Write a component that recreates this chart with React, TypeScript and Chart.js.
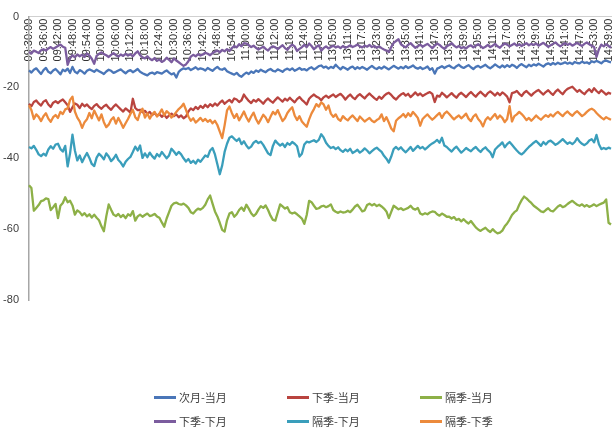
import React, { useEffect, useRef } from 'react';
import { Chart, registerables } from 'chart.js';

Chart.register(...registerables);

// ---- categories (1-minute bars, two trading sessions) ----
function sessionTimes(startMin: number, endMin: number): string[] {
  const out: string[] = [];
  for (let t = startMin; t <= endMin; t++) {
    const h = String(Math.floor(t / 60)).padStart(2, '0');
    const m = String(t % 60).padStart(2, '0');
    out.push(`${h}:${m}:00`);
  }
  return out;
}
const TIMES: string[] = [
  ...sessionTimes(9 * 60 + 30, 11 * 60 + 30),
  ...sessionTimes(13 * 60, 15 * 60),
];
const LABEL_EVERY = 6;

const Y_TICKS = [0, -20, -40, -60, -80];

const SERIES_NAMES = ['次月-当月', '下季-当月', '隔季-当月', '下季-下月', '隔季-下月', '隔季-下季'];
const SERIES_COLORS = ['#4A76B8', '#B9443F', '#8DB047', '#7B5C9E', '#3A9EBB', '#EC8A3C'];

// ---- series values ----
const ciYue_dangYue = [
  -15.2, -15.8, -15.0, -14.6, -15.4, -16.2,
  -15.1, -14.5, -15.6, -16.0, -15.2, -14.8,
  -15.5, -16.3, -15.0, -15.4, -14.7, -15.9,
  -14.2, -15.6, -16.0, -15.1, -15.5, -16.1,
  -15.3, -14.9, -15.2, -15.6, -15.0, -15.4,
  -15.8, -16.2, -15.5, -15.0, -15.3, -15.9,
  -15.6, -15.2, -14.9, -15.5, -16.0, -15.4,
  -15.1, -15.7, -15.3, -14.8, -15.6, -16.0,
  -16.3, -16.6, -16.0, -15.8, -16.2, -15.7,
  -15.9, -16.1, -15.6, -15.2, -15.8, -16.3,
  -16.0, -17.2, -15.6, -15.0, -14.6, -14.8,
  -14.5, -15.1, -14.7, -14.3, -14.9, -14.6,
  -14.8, -15.2, -14.5, -14.9, -15.3, -14.7,
  -14.2, -14.8, -15.0, -14.6, -15.4, -15.8,
  -16.1, -16.4, -15.9, -16.6, -17.0, -16.3,
  -15.8, -16.2, -15.5, -15.9, -15.2, -15.6,
  -15.0, -15.4, -15.7, -15.1, -14.8, -15.3,
  -15.5, -14.9, -15.2, -15.6, -15.0, -14.7,
  -15.1, -14.6, -15.3, -14.9, -14.5, -15.0,
  -14.8, -15.2, -14.6, -14.3, -14.9, -14.5,
  -14.0, -13.8, -14.4, -14.1, -14.7, -14.2,
  -14.5, -13.6, -14.3, -14.9, -14.2, -14.6,
  -15.0, -14.4, -14.1, -14.8, -14.3, -14.7,
  -14.2, -14.6, -15.0, -14.4, -13.9, -14.5,
  -14.8, -14.3, -14.7, -14.1, -14.5, -14.9,
  -14.4, -13.9, -14.3, -14.7, -14.2, -14.6,
  -14.0, -14.5, -14.2, -13.8, -14.4, -14.7,
  -14.3, -14.8, -14.5, -14.1, -15.0, -14.6,
  -16.1, -14.7, -14.4, -14.0, -14.5, -14.1,
  -13.8, -14.3, -14.6, -14.0, -13.6, -14.2,
  -14.5, -14.1, -13.7, -14.3, -14.8, -14.2,
  -13.9, -14.4, -14.0, -13.6, -14.2, -14.6,
  -14.1, -13.5, -14.0, -14.4, -13.8, -14.3,
  -13.7, -14.2, -13.6, -13.9, -14.5, -13.8,
  -13.4, -13.9, -14.3, -13.6, -14.0, -13.5,
  -13.8, -13.3, -13.7, -14.1, -13.5, -13.2,
  -13.6, -13.1, -13.5, -13.0, -13.4, -13.2,
  -12.9, -13.3, -13.0, -13.4, -12.8, -13.1,
  -13.2, -12.7, -13.1, -12.9, -13.3, -12.6,
  -12.9, -12.5, -12.8, -13.2, -12.6, -12.4,
  -12.7, -12.9,
];

const xiaJi_dangYue = [
  -24.6, -25.3, -24.1, -23.7, -24.5, -25.1,
  -24.0, -23.6, -24.8, -25.5, -24.3, -23.9,
  -24.4, -23.8, -23.4, -24.2, -25.0, -26.9,
  -25.6, -24.5, -24.9, -25.8, -24.6, -25.3,
  -24.8, -25.6, -26.1, -25.2, -24.7, -25.5,
  -26.0, -25.3, -24.9, -25.7, -26.3, -25.4,
  -24.8, -25.5, -26.2, -26.8, -25.9, -26.5,
  -27.1, -23.2, -25.8, -26.4, -26.3, -27.0,
  -26.6, -27.4, -26.9, -27.8, -27.2, -28.0,
  -27.5, -28.3, -27.7, -28.6, -27.9, -27.4,
  -28.1, -27.6, -28.4, -27.9, -28.7, -28.2,
  -26.8, -25.9, -26.4, -25.5, -26.1, -25.2,
  -25.8, -24.9, -25.6, -24.7, -25.3, -24.5,
  -25.1, -24.3, -23.7, -24.6, -24.0, -23.5,
  -24.2, -23.1, -23.4, -24.1, -23.6, -22.0,
  -23.0, -23.8, -24.4, -23.5, -24.0, -23.3,
  -23.9, -24.6, -23.7, -23.1, -23.8, -24.3,
  -23.5, -22.8, -23.4, -24.0, -23.2, -23.7,
  -22.9, -23.6, -24.2, -23.3, -22.7, -23.5,
  -24.1, -24.8, -23.2, -22.5, -22.0, -22.6,
  -22.9, -23.6, -22.8, -22.3, -22.9, -22.4,
  -22.0, -22.7, -22.2, -21.8, -22.5, -23.4,
  -22.6, -22.0, -22.8, -23.3, -22.4, -21.9,
  -22.5, -23.1, -22.3, -21.7, -22.4, -23.0,
  -23.5, -22.6, -23.2, -22.4, -21.8, -21.5,
  -22.1, -22.9, -23.4, -22.6, -22.0, -21.6,
  -22.3, -21.8, -22.7, -22.1, -21.4, -22.2,
  -21.7, -22.4, -22.0, -21.6, -21.3, -21.8,
  -24.1, -22.3, -22.6, -21.5, -22.1, -22.8,
  -22.2, -21.6, -22.3, -22.9, -22.0, -21.5,
  -22.1, -22.7, -21.9, -21.3, -22.0, -22.6,
  -21.8, -21.2, -21.9, -22.5, -21.6, -21.1,
  -21.7, -22.3, -21.5, -22.2, -21.4, -21.9,
  -22.6, -24.2, -21.6, -21.4, -21.0, -21.8,
  -22.4, -21.5, -21.0, -21.7, -22.3, -21.6,
  -21.1, -20.7, -21.4, -22.0, -21.3, -20.8,
  -21.5, -22.1, -21.2, -20.6, -21.3, -21.9,
  -21.0, -20.4, -20.1, -19.8, -20.5, -21.2,
  -20.7, -21.4, -21.9, -21.1, -20.5, -21.3,
  -20.2, -21.0, -21.6, -20.8, -21.4, -22.0,
  -21.5, -21.8,
];

const geJi_dangYue = [
  -47.6, -48.4, -54.8, -54.0, -53.2, -52.1,
  -51.9, -51.3, -51.5, -54.6, -53.8, -52.9,
  -56.9, -53.4, -52.6, -51.0, -52.4, -52.0,
  -53.3, -55.9, -54.7, -55.2, -56.1, -55.5,
  -56.4, -55.8, -56.7, -55.9, -56.8, -57.5,
  -59.2, -60.6, -56.4, -53.0, -54.5, -55.9,
  -56.3, -55.7, -56.6, -56.0, -56.9, -55.8,
  -56.2, -54.9, -57.6, -56.4, -55.9, -56.5,
  -56.0, -55.6, -56.3, -56.1, -55.7, -56.4,
  -56.8, -58.1, -59.3, -57.0, -55.2, -53.4,
  -52.7, -52.5, -52.9, -53.1, -52.8, -53.3,
  -54.0, -55.2, -55.6, -54.8, -54.2, -54.5,
  -54.0, -53.1, -51.6, -50.5, -52.8, -55.0,
  -56.4, -58.2, -60.2, -60.7, -57.5, -55.6,
  -55.2, -56.5, -55.8, -54.6, -53.9, -54.8,
  -53.1, -54.2, -55.5, -56.3, -55.7, -54.5,
  -53.5, -54.0, -53.3, -54.6, -56.2, -57.4,
  -57.6, -55.3, -53.0, -53.6, -54.2, -53.8,
  -55.2, -55.6, -55.3, -55.8, -56.4, -57.0,
  -58.5, -56.0, -52.0, -52.4, -53.4, -54.3,
  -54.1, -53.6, -53.4, -53.8, -53.5, -53.0,
  -54.6, -55.1, -55.4, -55.0, -55.3, -55.2,
  -54.8, -55.2, -54.5, -53.6, -53.1, -54.0,
  -55.0, -54.7, -53.2, -52.8, -53.3, -52.9,
  -53.5, -53.1, -53.6, -54.2, -55.0, -56.9,
  -55.1, -53.4, -53.9, -54.4, -54.1, -54.6,
  -54.3, -54.0, -53.4, -54.2, -54.5, -54.0,
  -55.6, -55.9, -55.5, -55.8, -55.3, -55.0,
  -55.1, -55.8, -56.2, -55.6, -56.0, -56.5,
  -56.5, -57.0, -56.6, -57.4, -57.1, -57.8,
  -57.2, -57.9, -58.4, -57.7, -58.6, -59.5,
  -60.1, -60.5, -60.0, -59.6, -60.3, -60.8,
  -60.0, -60.7, -61.2, -61.0, -60.4, -59.2,
  -58.4, -57.3, -56.0, -55.2, -54.7, -53.1,
  -51.8, -50.8, -51.3, -52.0, -52.6, -53.4,
  -53.9, -54.4, -55.0, -55.2, -54.6, -54.1,
  -54.8, -55.0, -54.3, -53.6, -53.2, -53.8,
  -53.5, -52.9, -52.4, -52.0, -52.6, -53.1,
  -53.4, -53.0, -53.6, -53.2, -53.7, -53.4,
  -53.0, -53.5, -53.1, -52.8, -52.5, -51.6,
  -58.2, -58.7,
];

const xiaJi_xiaYue = [
  -10.0, -10.4, -9.6, -9.9, -10.3, -9.5,
  -9.2, -9.6, -9.0, -8.6, -9.1, -8.7,
  -8.3, -7.9, -8.5, -8.8, -13.6, -11.8,
  -10.9, -11.5, -10.7, -11.2, -10.8, -11.4,
  -10.4, -11.0, -11.9, -13.3, -11.1, -10.5,
  -10.1, -10.6, -10.9, -11.4, -10.8, -10.3,
  -10.9, -11.3, -10.7, -11.1, -10.5, -11.0,
  -10.6, -11.2, -10.4, -9.8, -10.9, -11.5,
  -11.8, -11.2, -11.9, -12.3, -11.7, -12.5,
  -12.1, -12.8, -12.4, -11.6, -12.2, -12.9,
  -11.8, -12.4, -12.9, -13.4, -13.9, -13.5,
  -12.6, -11.3, -10.8, -11.2, -10.6, -11.0,
  -10.7, -10.2, -10.5, -10.9, -10.3, -9.9,
  -9.6, -10.1, -9.4, -9.8, -9.2, -9.7,
  -8.9, -8.3, -8.7, -7.8, -8.4, -7.5,
  -7.6, -8.1, -8.6, -8.2, -8.8, -9.3,
  -8.9, -8.5, -9.1, -9.6, -8.8, -8.4,
  -8.7, -9.2, -8.6, -8.1, -8.9, -9.4,
  -8.5, -7.9, -8.4, -9.7, -9.1, -8.6,
  -8.0, -8.6, -7.6, -8.3, -9.2, -8.5,
  -8.1, -9.6, -8.9, -8.4, -9.0, -8.6,
  -8.2, -8.7, -8.4, -8.9, -8.3, -8.8,
  -8.5, -8.1, -8.6, -8.3, -7.9, -8.4,
  -8.7, -8.2, -8.5, -8.0, -8.6, -8.3,
  -8.8, -8.4, -8.9, -9.3, -9.6, -10.0,
  -8.6, -7.4, -6.9, -6.4, -7.8, -8.3,
  -8.7, -8.0, -7.5, -8.2, -8.8, -8.4,
  -7.9, -8.5, -8.1, -7.7, -8.3, -8.9,
  -8.2, -7.6, -8.0, -8.6, -9.1, -8.4,
  -8.0, -7.5, -8.2, -8.7, -8.3, -8.9,
  -8.6, -9.0, -8.4, -8.1, -8.7, -8.2,
  -7.8, -8.3, -8.9, -8.5, -8.0, -8.6,
  -8.2, -7.7, -8.4, -8.8, -8.1, -7.6,
  -7.9, -8.4, -8.0, -7.6, -8.2, -7.8,
  -8.3, -7.9, -7.5, -8.1, -7.7, -8.0,
  -7.6, -8.2, -7.8, -7.4, -8.0, -8.5,
  -8.1, -7.7, -7.3, -7.9, -8.4, -7.9,
  -7.5, -8.0, -7.6, -8.2, -7.8, -7.4,
  -7.9, -8.3, -7.7, -7.3, -7.8, -8.2,
  -8.6, -11.4, -9.2, -7.9, -8.4, -7.8,
  -8.3, -8.8,
];

const geJi_xiaYue = [
  -36.8, -37.2, -36.5, -37.6, -38.9, -39.4,
  -38.7, -39.2, -37.5, -36.6, -37.3, -36.1,
  -35.9, -37.4, -38.1, -36.5, -42.3, -38.6,
  -33.3, -37.8, -40.6, -39.2, -41.1, -39.7,
  -38.5, -39.9, -41.6, -42.2, -39.8, -38.7,
  -39.4, -40.3, -38.6, -39.5, -40.8, -40.1,
  -39.0, -40.5, -41.2, -42.3, -41.0, -40.2,
  -39.6, -38.2, -36.7, -37.8, -36.4, -39.9,
  -38.6, -39.7, -38.4, -39.4, -40.1, -38.8,
  -39.5, -38.2, -39.1, -40.0, -39.2, -37.3,
  -38.1, -39.0, -38.2, -38.9, -40.0, -40.9,
  -40.2, -41.3, -40.7, -41.5, -40.4, -41.0,
  -40.1, -39.2, -39.6, -37.8, -37.1, -38.9,
  -41.7, -44.5, -42.0, -38.2, -35.9, -34.2,
  -33.8, -34.5, -35.1, -34.4, -36.0, -35.2,
  -36.4, -37.2, -36.7, -35.6, -35.1, -35.7,
  -35.3, -36.2, -37.4, -38.6, -39.1, -36.5,
  -35.0, -35.8, -36.4, -35.9, -36.8, -35.7,
  -36.2, -35.4, -35.9, -36.6, -39.5, -38.7,
  -36.1, -35.3, -35.5, -35.2, -34.9, -35.4,
  -34.8, -33.2, -34.1, -35.6, -36.5, -37.1,
  -36.8, -37.4, -36.9, -37.7, -38.2, -37.5,
  -38.0, -37.3, -38.5, -38.1, -37.6, -38.4,
  -37.9, -37.2, -37.8, -38.6, -38.0, -37.4,
  -37.0, -37.6, -38.2, -39.3, -40.1, -41.2,
  -39.5, -37.4, -36.8, -37.5, -36.9, -37.7,
  -38.3, -37.6, -36.8, -37.9, -37.2, -36.5,
  -37.2, -36.8, -37.5, -36.9, -36.3, -35.8,
  -35.4, -34.8, -35.6, -34.2, -36.4, -36.8,
  -37.5, -38.1, -37.3, -36.7, -37.6, -38.4,
  -37.8, -37.1, -37.6, -38.0, -37.3, -36.8,
  -37.6, -38.2, -37.4, -36.9, -37.7, -38.3,
  -39.7, -37.5, -36.8, -36.2, -35.5, -36.9,
  -36.0, -35.4, -36.2, -37.0, -37.8, -38.5,
  -38.9, -38.3, -37.5, -36.8, -36.2, -35.6,
  -35.1, -35.8, -36.5, -35.4, -36.1, -35.3,
  -35.0, -35.6, -36.2, -35.8, -35.2, -34.6,
  -35.3, -35.9, -35.5, -36.0, -35.4, -34.3,
  -35.3, -35.9, -36.3, -35.8, -35.0, -34.6,
  -35.5, -33.4, -36.0, -37.4, -37.1, -37.4,
  -37.0, -37.3,
];

const geJi_xiaJi = [
  -25.0, -26.4, -28.9, -27.6, -28.3, -29.5,
  -28.1, -27.3, -28.8, -29.7, -28.4, -27.8,
  -28.6, -26.9, -27.5, -26.2, -25.9, -23.5,
  -22.6, -26.8, -28.5, -29.6, -31.4, -29.8,
  -29.0, -27.2, -28.7, -26.5, -27.9, -29.3,
  -27.6, -29.8, -31.2, -30.5, -29.1, -28.4,
  -30.2, -28.6, -29.9, -31.4, -30.1, -28.9,
  -27.5, -26.3, -28.4, -29.2, -27.1, -26.0,
  -28.5, -27.3, -28.8, -27.6, -26.9, -28.2,
  -27.4, -26.2, -27.9, -26.7, -27.3, -28.5,
  -27.8, -26.9, -26.1, -25.5, -24.6, -26.3,
  -28.2, -29.4, -28.7, -29.9, -29.3, -28.6,
  -29.5, -28.9, -29.7, -29.2, -30.1, -29.4,
  -30.6, -32.5, -34.3, -30.7, -26.5, -25.4,
  -27.2, -28.6, -27.5, -29.3, -28.1, -26.8,
  -28.4, -29.6, -28.2, -27.1, -28.9, -30.2,
  -29.0, -27.7, -28.5, -29.8, -28.3, -26.9,
  -27.6, -26.4, -28.0, -29.5, -28.7, -27.2,
  -26.3, -25.6, -27.9, -29.2, -28.1, -29.6,
  -30.4, -31.1, -29.0, -27.3, -26.1, -24.7,
  -25.4, -24.2, -24.8, -26.3, -25.1, -27.4,
  -28.3, -27.6, -28.9, -29.4, -28.1, -28.8,
  -29.3, -28.5, -27.9, -28.7, -29.5, -28.2,
  -28.9, -29.6, -29.1, -28.6, -29.4, -29.8,
  -29.2, -28.8, -27.6, -29.5, -28.4, -29.9,
  -31.6, -32.4, -29.4, -28.7, -28.2, -27.5,
  -28.4, -27.3, -28.1, -26.9, -27.7, -28.6,
  -30.8, -28.9, -28.2, -27.6, -28.4, -29.1,
  -28.5, -27.8, -27.2, -28.6, -27.4, -26.8,
  -27.5, -28.3, -29.0, -28.4, -27.9, -28.7,
  -28.1, -27.4, -28.8, -29.5, -28.2, -27.6,
  -28.9, -29.7, -31.0, -29.2, -28.4, -29.1,
  -28.3, -27.5, -28.8, -27.9, -28.6, -29.8,
  -28.9, -25.3, -29.6, -28.1, -27.6, -26.9,
  -27.5, -28.3, -29.2, -28.6, -29.4, -28.7,
  -27.9, -28.6, -29.1, -28.4, -27.8, -28.3,
  -27.6, -28.2, -27.4, -26.9, -27.5, -28.1,
  -27.3, -26.8, -27.5, -28.0, -27.2, -26.7,
  -27.4, -28.1, -27.6, -26.9, -26.3, -26.0,
  -26.4, -27.2, -27.9, -28.5, -29.0, -28.4,
  -28.8, -29.1,
];

const SERIES_VALUES = [ciYue_dangYue, xiaJi_dangYue, geJi_dangYue, xiaJi_xiaYue, geJi_xiaYue, geJi_xiaJi];

export default function App() {
  const canvasRef = useRef<HTMLCanvasElement | null>(null);

  useEffect(() => {
    const canvas = canvasRef.current;
    if (!canvas) return;
    const chart = new Chart(canvas, {
      type: 'line',
      data: {
        labels: TIMES,
        datasets: SERIES_NAMES.map((name, i) => ({
          label: name,
          data: SERIES_VALUES[i],
          borderColor: SERIES_COLORS[i],
          backgroundColor: SERIES_COLORS[i],
          borderWidth: 2.3,
          pointRadius: 0,
          pointHoverRadius: 0,
          tension: 0,
          fill: false,
          borderJoinStyle: 'round' as const,
          order: SERIES_NAMES.length - i,
        })),
      },
      options: {
        responsive: false,
        animation: false,
        events: [],
        layout: { padding: { left: 0, right: 3, top: 12, bottom: 130 } },
        plugins: {
          legend: { display: false },
          tooltip: { enabled: false },
          title: { display: false },
        },
        scales: {
          x: {
            type: 'category',
            position: { y: 0 } as any,
            offset: false,
            grid: { display: false, drawTicks: false, tickLength: 0 },
            border: { display: true, color: '#d0d0d0', width: 1 },
            ticks: {
              autoSkip: false,
              minRotation: 90,
              maxRotation: 90,
              padding: 2,
              color: '#333333',
              font: { family: 'Liberation Sans, Arial, sans-serif', size: 11 },
              callback: function (this: any, val: any, idx: number) {
                return idx % LABEL_EVERY === 0 ? TIMES[idx] : null;
              },
            },
            afterFit: (scale: any) => {
              scale.paddingLeft = 0;
              scale.paddingRight = 0;
            },
          },
          y: {
            type: 'linear',
            min: Y_TICKS[Y_TICKS.length - 1],
            max: Y_TICKS[0],
            grid: { display: false, drawTicks: false, tickLength: 0 },
            border: { display: true, color: '#a6a6a6', width: 1.5 },
            afterBuildTicks: (scale: any) => {
              scale.ticks = Y_TICKS.map((v) => ({ value: v }));
            },
            ticks: {
              padding: 10,
              color: '#404040',
              font: { family: 'Liberation Sans, Arial, sans-serif', size: 11 },
            },
            afterFit: (scale: any) => {
              scale.width = 29;
            },
          },
        },
      },
    });
    return () => chart.destroy();
  }, []);

  return (
    <div style={{ position: 'absolute', left: 0, top: 0, width: 614, height: 430, background: '#fff' }}>
      <canvas ref={canvasRef} width={614} height={430} style={{ width: 614, height: 430, display: 'block' }} />
      <div
        style={{
          position: 'absolute',
          left: 154,
          top: 385,
          display: 'grid',
          gridTemplateColumns: '133px 133px 133px',
          gridAutoRows: '24px',
        }}
      >
        {SERIES_NAMES.map((name, i) => (
          <div key={name} style={{ display: 'flex', alignItems: 'center', height: 24 }}>
            <span
              style={{
                display: 'inline-block',
                width: 22,
                height: 3,
                background: SERIES_COLORS[i],
                marginRight: 3,
              }}
            />
            <span
              style={{
                fontFamily: '"Noto Sans CJK SC", sans-serif',
                fontSize: 11,
                color: '#404040',
                lineHeight: '24px',
                whiteSpace: 'nowrap',
              }}
            >
              {name}
            </span>
          </div>
        ))}
      </div>
    </div>
  );
}
